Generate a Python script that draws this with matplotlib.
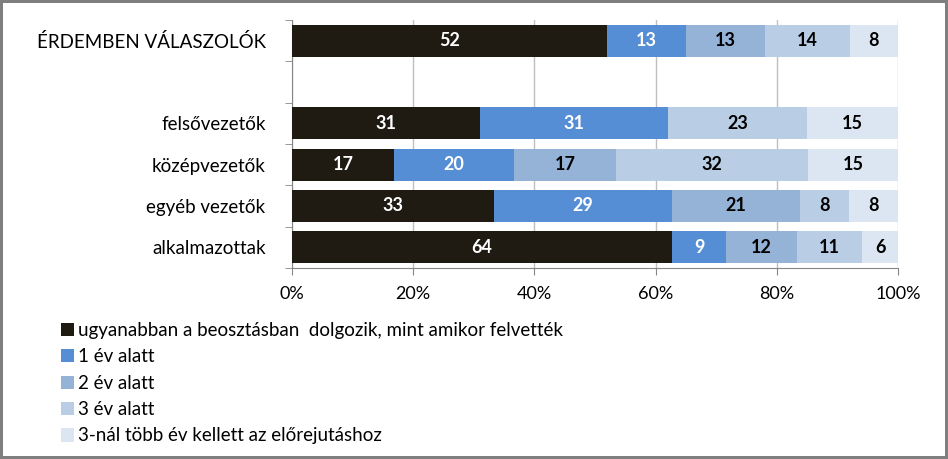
import matplotlib
matplotlib.use("Agg")
import matplotlib.pyplot as plt
import numpy as np
from matplotlib.patches import Patch

plt.rcParams['font.family'] = ['Lato', 'DejaVu Sans']

categories = ["ÉRDEMBEN VÁLASZOLÓK", "", "felsővezetők", "középvezetők", "egyéb vezetők", "alkalmazottak"]
series_names = ["ugyanabban a beosztásban  dolgozik, mint amikor felvették",
                "1 év alatt", "2 év alatt", "3 év alatt",
                "3-nál több év kellett az előrejutáshoz"]
# values per category (None = empty row)
same_pos = [52, None, 31, 17, 33, 64]
y1 = [13, None, 31, 20, 29, 9]
y2 = [13, None, 0, 17, 21, 12]
y3 = [14, None, 23, 32, 8, 11]
more = [8, None, 15, 15, 8, 6]
series = [same_pos, y1, y2, y3, more]
colors = ["#1F1B13", "#558ED5", "#95B3D7", "#B9CDE5", "#DCE6F2"]
label_colors = ["white", "white", "black", "black", "black"]
xticks = [0, 20, 40, 60, 80, 100]
xticklabels = ["0%", "20%", "40%", "60%", "80%", "100%"]

fig = plt.figure(figsize=(9.48, 4.59), dpi=100)
fig.patch.set_edgecolor("#7F7F7F")
fig.patch.set_linewidth(3)
ax = fig.add_axes([292/948, 1-268/459, 606/948, 248/459])

ypos = np.arange(len(categories))
left = np.zeros(len(categories))
for si, s in enumerate(series):
    for ci, v in enumerate(s):
        if v is None:
            continue
        total = sum(ss[ci] for ss in series)
        w = v / total * 100
        if w > 0:
            ax.barh(ypos[ci], w, left=left[ci], height=0.78, color=colors[si], zorder=3)
            ax.text(left[ci] + w/2, ypos[ci], str(v), ha="center", va="center",
                    color=label_colors[si], fontsize=13, fontweight="bold", zorder=4)
        left[ci] += w

ax.set_xlim(0, 100)
ax.set_ylim(len(categories) - 0.5, -0.5)
ax.set_xticks(xticks)
ax.set_xticklabels(xticklabels, fontsize=13)
ax.set_yticks(ypos)
ax.set_yticklabels(categories, fontsize=13.5)
ax.tick_params(axis="y", length=0, pad=19)
ax.set_yticks(np.arange(-0.5, len(categories), 1), minor=True)
ax.tick_params(axis="y", which="minor", length=5, color="#868686")
ax.tick_params(axis="x", length=5, color="#868686", pad=8)
ax.xaxis.grid(True, color="#BFBFBF", linewidth=1, zorder=0)
ax.set_axisbelow(True)
for sp in ["top", "right"]:
    ax.spines[sp].set_visible(False)
for sp in ["left", "bottom"]:
    ax.spines[sp].set_color("#868686")

handles = [Patch(facecolor=c, edgecolor="none") for c in colors]
fig.legend(handles, series_names, loc="upper left", bbox_to_anchor=(61/948, 1-322/459),
           frameon=False, fontsize=13.5, handlelength=0.7, handleheight=0.7,
           handletextpad=0.2, labelspacing=0.5, borderaxespad=0, borderpad=0)

fig.savefig("out.png", dpi=100)
